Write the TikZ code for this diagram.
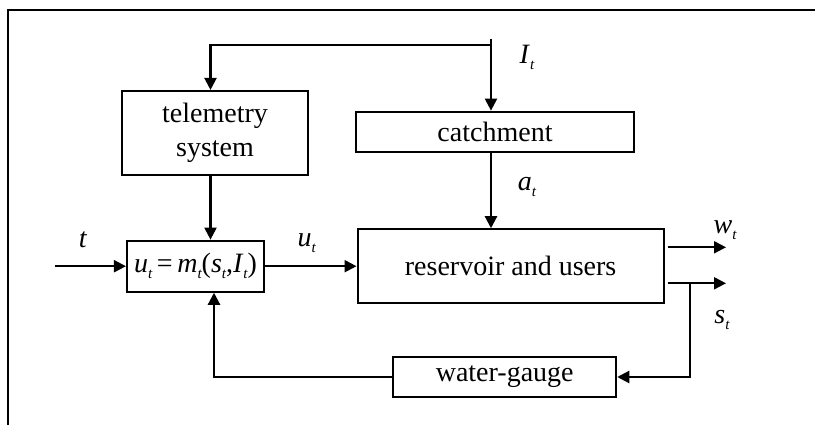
\documentclass[tikz,border=0pt]{standalone}
\usepackage{fontspec}
\setmainfont{Liberation Serif}
\usetikzlibrary{arrows.meta}
\newcommand\sbt{\raisebox{-0.22em}{\fontsize{15}{15}\selectfont\itshape t}}
\begin{document}
\begin{tikzpicture}[x=1pt,y=-1pt,
  every node/.style={font=\fontsize{28}{34}\selectfont},
  blk/.style={draw,line width=2.1pt,inner sep=0pt,align=center},
  lbl/.style={inner sep=0pt},
  arr/.style={line width=2.1pt,-{Triangle[length=12pt,width=12pt]}}]
\useasboundingbox (0,0) rectangle (815,425);
\draw[line width=2pt] (8,425) -- (8,10) -- (815,10);
% blocks
\node[blk,minimum width=186pt,minimum height=84pt] (tele) at (215,133) {\raisebox{8pt}{\begin{tabular}{@{}c@{}}telemetry\\system\end{tabular}}};
\node[blk,minimum width=278pt,minimum height=40pt] (catch) at (495,131.7) {catchment};
\node[blk,minimum width=306pt,minimum height=74pt] (res) at (510.6,266.3) {reservoir and users};
\node[blk,minimum width=137pt,minimum height=51pt] (ctrl) at (195.5,266.2) {\textit{u}\sbt\,=\,\textit{m}\sbt(\textit{s}\sbt,\textit{I}\sbt)};
\node[blk,minimum width=223pt,minimum height=39.4pt] (wg) at (504.7,377) {water-gauge};
% coordinates
\coordinate (Itop) at (491,39);
\coordinate (Ijoin) at (491,45);
\coordinate (tx) at (210.5,0);
\coordinate (fbx) at (214,0);
\coordinate (tin) at (54.6,266.2);
\coordinate (wout) at (726,247.3);
\coordinate (sout) at (726,283.3);
\coordinate (sbr) at (690,283.3);
% connectors
\draw[arr] (Itop) -- (Itop |- catch.north);
\draw[arr] (Ijoin) -| (tx |- tele.north);
\draw[arr] (Itop |- catch.south) -- (Itop |- res.north);
\draw[arr] (tx |- tele.south) -- (tx |- ctrl.north);
\draw[arr] (tin) -- (ctrl.west);
\draw[arr] (ctrl.east) -- (res.west |- ctrl.east);
\draw[arr] ([xshift=3pt]res.east |- wout) -- (wout);
\draw[arr] ([xshift=3pt]res.east |- sout) -- (sout);
\draw[arr] (sbr) |- (wg.east);
\draw[arr] (wg.west) -| (fbx |- ctrl.south);
% labels
\node[lbl] (Ilab) at (527,57) {\textit{I}\sbt};
\node[lbl] (alab) at (527,187) {\textit{a}\sbt};
\node[lbl] (tlab) at (83,240) {\textit{t}};
\node[lbl] (ulab) at (306.6,243) {\textit{u}\sbt};
\node[lbl] (wlab) at (725,230) {\textit{w}\sbt};
\node[lbl] (slab) at (722,320) {\textit{s}\sbt};
\end{tikzpicture}
\end{document}
